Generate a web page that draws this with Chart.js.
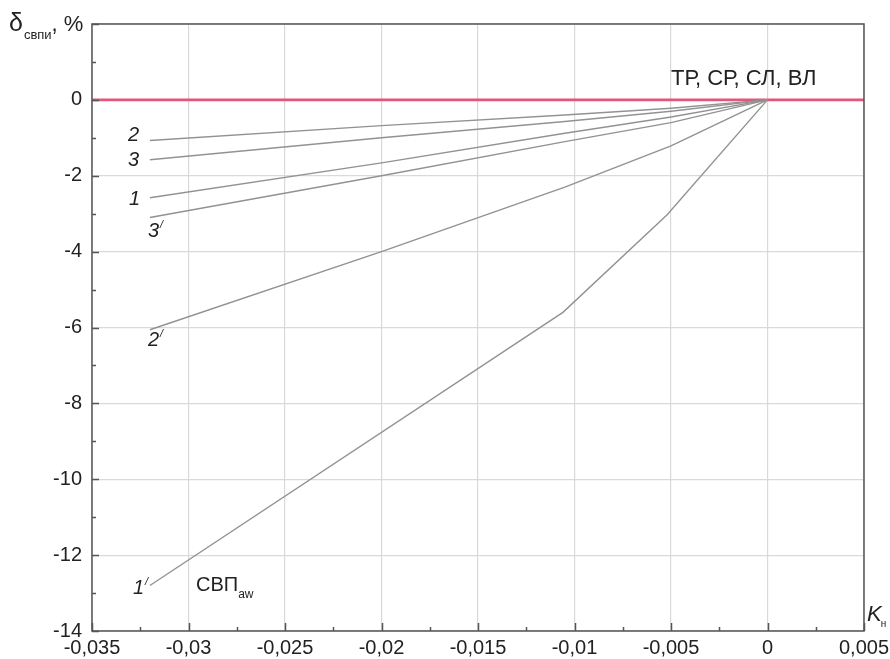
<!DOCTYPE html>
<html>
<head>
<meta charset="utf-8">
<script src="https://cdn.jsdelivr.net/npm/chart.js@4/dist/chart.umd.min.js"></script>
<style>
  html, body { margin: 0; padding: 0; background: #fff; }
  #wrap { width: 890px; height: 659px; }
</style>
</head>
<body>
<div id="wrap"><canvas id="grafica"></canvas></div>
<script>
// ========== DATOS ===================
// K_н values where the curves were read
const KN = [-0.032, -0.02, -0.0105, -0.005, 0];
const KN_1P = [-0.032, -0.0106, -0.0052, 0];
const KN_ZERO = [-0.035, 0.005];

// δ_свпи, %
const D_2  = [-1.07, -0.68, -0.40, -0.22, 0];
const D_3  = [-1.58, -1.00, -0.57, -0.30, 0];
const D_1  = [-2.58, -1.66, -0.88, -0.45, 0];
const D_3P = [-3.10, -2.00, -1.10, -0.60, 0];
const D_2P = [-6.06, -4.00, -2.30, -1.21, 0];
const D_1P = [-12.8, -5.60, -3.03, 0];
const D_ZERO = [0, 0];   // ТР, СР, СЛ, ВЛ

const X_MIN = -0.035, X_MAX = 0.005;
const Y_MIN = -14, Y_MAX = 2;

// -------------- UTILS ----------------
function pts(xs, ys){ return xs.map((x, i) => ({ x: x, y: ys[i] })); }
function isMajorX(v){ return Math.abs(Math.round(v / 0.005) * 0.005 - v) < 1e-9; }
function fmtX(v){ return parseFloat(v.toFixed(4)).toString().replace(".", ","); }

const FONT = "'Liberation Sans', Arial, sans-serif";
const GRID = "#d9d9d9";
const LINE = "#929292";

// ========== DIBUJO EXTRA (marco, marcas, rótulos) ==========
const marcoPlugin = {
  id: "marco",
  afterDraw(chart){
    const { ctx, chartArea: a, scales: { x, y } } = chart;
    ctx.save();
    ctx.strokeStyle = "#555";
    ctx.lineWidth = 1.5;
    ctx.strokeRect(a.left, a.top, a.right - a.left, a.bottom - a.top);

    // marcas hacia dentro
    ctx.beginPath();
    for (let v = Y_MIN; v <= Y_MAX; v++) {
      const py = Math.round(y.getPixelForValue(v)) + 0.5;
      const len = v % 2 === 0 ? 7 : 4;
      ctx.moveTo(a.left, py); ctx.lineTo(a.left + len, py);
    }
    for (let i = 0; i <= 16; i++) {
      const v = X_MIN + i * 0.0025;
      const px = Math.round(x.getPixelForValue(v)) + 0.5;
      const len = i % 2 === 0 ? 8 : 4;
      ctx.moveTo(px, a.bottom); ctx.lineTo(px, a.bottom - len);
    }
    ctx.stroke();
    ctx.restore();
  }
};

function texto(ctx, s, px, py, size, italic){
  ctx.font = (italic ? "italic " : "") + size + "px " + FONT;
  ctx.fillText(s, px, py);
  return ctx.measureText(s).width;
}

const rotulosPlugin = {
  id: "rotulos",
  afterDraw(chart){
    const { ctx, scales: { x, y } } = chart;
    ctx.save();
    ctx.fillStyle = "#222";
    ctx.textBaseline = "alphabetic";
    ctx.textAlign = "left";

    // números de curvas, junto al inicio de cada una
    const sx = x.getPixelForValue(-0.032);
    texto(ctx, "2", sx - 22, y.getPixelForValue(D_2[0]) + 1, 20, true);
    texto(ctx, "3", sx - 22, y.getPixelForValue(D_3[0]) + 6, 20, true);
    texto(ctx, "1", sx - 21, y.getPixelForValue(D_1[0]) + 7, 20, true);
    let w = texto(ctx, "3", sx - 2, y.getPixelForValue(D_3P[0]) + 20, 20, true);
    texto(ctx, "/", sx - 2 + w + 1, y.getPixelForValue(D_3P[0]) + 11, 11, true);
    w = texto(ctx, "2", sx - 2, y.getPixelForValue(D_2P[0]) + 16, 20, true);
    texto(ctx, "/", sx - 2 + w + 1, y.getPixelForValue(D_2P[0]) + 7, 11, true);
    w = texto(ctx, "1", sx - 17, y.getPixelForValue(D_1P[0]) + 9, 20, true);
    texto(ctx, "/", sx - 17 + w + 1, y.getPixelForValue(D_1P[0]) + 0, 11, true);

    // СВП_aw
    w = texto(ctx, "СВП", 196, 591, 20, false);
    texto(ctx, "aw", 196 + w, 598, 12, false);

    // ТР, СР, СЛ, ВЛ
    texto(ctx, "ТР, СР, СЛ, ВЛ", 671, 85, 22, false);

    // título del eje Y
    w = texto(ctx, "δ", 9, 31, 25, false);
    const w2 = texto(ctx, "свпи", 9 + w + 1, 39, 13, false);
    texto(ctx, ", %", 9 + w + w2 + 1, 31, 22, false);

    // título del eje X
    w = texto(ctx, "K", 867, 621, 22, true);
    texto(ctx, "н", 867 + w - 1, 627, 10, false);
    ctx.restore();
  }
};

// ========== GRAFICA ==========
function serie(label, data, color, width){
  return {
    label: label, data: data, showLine: true, borderColor: color,
    borderWidth: width, pointRadius: 0, fill: false, tension: 0
  };
}

const ctx = document.getElementById("grafica");
new Chart(ctx, {
  type: "scatter",
  data: {
    datasets: [
      serie("2", pts(KN, D_2), LINE, 1.4),
      serie("3", pts(KN, D_3), LINE, 1.4),
      serie("1", pts(KN, D_1), LINE, 1.4),
      serie("3'", pts(KN, D_3P), LINE, 1.4),
      serie("2'", pts(KN, D_2P), LINE, 1.4),
      serie("1'", pts(KN_1P, D_1P), LINE, 1.4),
      serie("ТР, СР, СЛ, ВЛ", pts(KN_ZERO, D_ZERO), "#e5557a", 2.6)
    ]
  },
  options: {
    responsive: true,
    maintainAspectRatio: false,
    animation: false,
    layout: { padding: { top: 24, right: 26, left: 0, bottom: 0 } },
    plugins: { legend: { display: false }, tooltip: { enabled: false } },
    scales: {
      x: {
        type: "linear", min: X_MIN, max: X_MAX,
        afterFit(s){ s.height = 28; s.paddingLeft = 0; s.paddingRight = 0; },
        border: { display: false },
        grid: {
          drawTicks: false,
          color: c => isMajorX(c.tick.value) ? GRID : "rgba(0,0,0,0)",
          lineWidth: 1.2
        },
        ticks: {
          stepSize: 0.0025, autoSkip: false, maxRotation: 0, padding: 5,
          color: "#222", font: { family: FONT, size: 20 },
          callback: v => isMajorX(v) ? fmtX(v) : ""
        }
      },
      y: {
        type: "linear", min: Y_MIN, max: Y_MAX,
        afterFit(s){ s.width = 92; s.paddingTop = 0; s.paddingBottom = 0; },
        border: { display: false },
        grid: {
          drawTicks: false,
          color: c => (c.tick.value % 2 === 0) ? GRID : "rgba(0,0,0,0)",
          lineWidth: 1.2
        },
        ticks: {
          stepSize: 1, autoSkip: false, padding: 10,
          color: "#222", font: { family: FONT, size: 20 },
          callback: v => (v % 2 === 0 && v <= 0) ? String(v) : ""
        }
      }
    }
  },
  plugins: [marcoPlugin, rotulosPlugin]
});
</script>
</body>
</html>
